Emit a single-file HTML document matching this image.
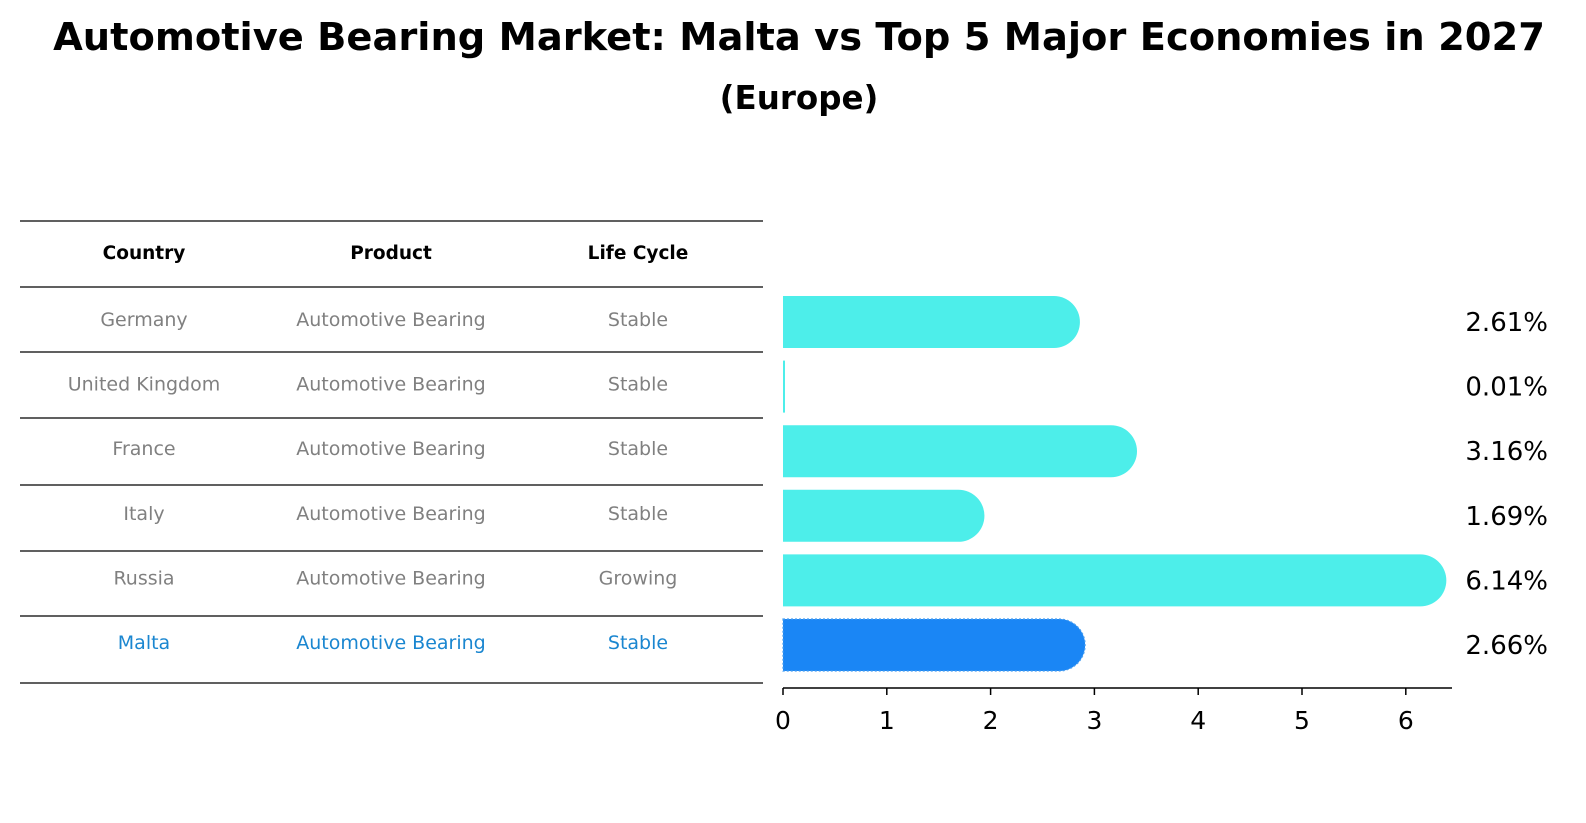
<!DOCTYPE html>
<html><head><meta charset="utf-8">
<style>
body{margin:0;background:#fff;font-family:"Liberation Sans","DejaVu Sans",sans-serif;}
#wrap{position:relative;width:1586px;height:823px;overflow:hidden;}
.t{position:absolute;white-space:nowrap;}
</style></head>
<body>
<div id="wrap">
<div class="t" style="left:0;width:1598px;text-align:center;top:15px;font-size:38.4px;font-weight:bold;font-family:'DejaVu Sans',sans-serif;">Automotive Bearing Market: Malta vs Top 5 Major Economies in 2027</div>
<div class="t" style="left:0;width:1598px;text-align:center;top:79px;font-size:32.5px;font-weight:bold;font-family:'DejaVu Sans',sans-serif;">(Europe)</div>
<svg id="svg" width="1586" height="823" style="position:absolute;left:0;top:0"></svg>
</div>
<script>
const countries=["Germany","United Kingdom","France","Italy","Russia","Malta"];
const products=["Automotive Bearing","Automotive Bearing","Automotive Bearing","Automotive Bearing","Automotive Bearing","Automotive Bearing"];
const lifecycle=["Stable","Stable","Stable","Stable","Growing","Stable"];
const values=[2.61,0.01,3.16,1.69,6.14,2.66];
const ticks=[0,1,2,3,4,5,6];
const NS="http://www.w3.org/2000/svg";
const svg=document.getElementById('svg');
function mk(tag,attrs,name,text){const e=document.createElementNS(NS,tag);for(const k in attrs)e.setAttribute(k,attrs[k]);


if(text!==undefined)e.textContent=text;svg.appendChild(e);return e;}
const x0=783,pxu=103.8;
const xs=v=>x0+v*pxu;
const rowY=i=>322+i*64.6;
const lineYs=[221,287,352,418,485,551,616,683];
lineYs.forEach((y,i)=>mk('line',{x1:20,x2:763,y1:y,y2:y,stroke:'#000','stroke-width':1.2},'table-rule'));
const colX=[144,391,638];
["Country","Product","Life Cycle"].forEach((h,j)=>mk('text',{x:colX[j],y:259,'text-anchor':'middle','font-size':18.5,'font-weight':'bold','font-family':'DejaVu Sans,sans-serif'},'table-header',h));
countries.forEach((c,i)=>{
 const y=rowY(i)+4;const col=i===5?'#1a86d0':'#808080';
 [c,products[i],lifecycle[i]].forEach((t,j)=>mk('text',{x:colX[j],y:y,'text-anchor':'middle','font-size':19,fill:col,'font-family':'DejaVu Sans,sans-serif'},'table-cell',t));
 const h=52,r=26,yc=rowY(i),w=xs(values[i])-x0;
 const color=i===5?'#1a86f5':'#4deeea';
 if(values[i]<0.1){mk('rect',{x:x0,y:yc-h/2,width:2,height:h,fill:color},'bar-'+c.toLowerCase().replace(/ /g,'-'));}
 else{mk('path',{d:`M${x0},${yc-r}H${x0+w}A${r},${r} 0 0 1 ${x0+w},${yc+r}H${x0}Z`,fill:color,stroke:i===5?'#4a9ff0':'none','stroke-dasharray':'2,2','stroke-width':i===5?1.2:0},'bar-'+c.toLowerCase().replace(/ /g,'-'));}
 mk('text',{x:1548,y:yc+9,'text-anchor':'end','font-size':26,'font-family':'DejaVu Sans,sans-serif'},'value-label',values[i].toFixed(2)+'%');
});
mk('line',{x1:x0,x2:1452,y1:688,y2:688,stroke:'#000','stroke-width':1.5},'x-axis-line');
ticks.forEach(t=>{mk('line',{x1:xs(t),x2:xs(t),y1:688,y2:695,stroke:'#000','stroke-width':1.5},'x-tick');
 mk('text',{x:xs(t),y:729,'text-anchor':'middle','font-size':25,'font-family':'DejaVu Sans,sans-serif'},'x-tick-label',String(t));});
</script>
</body></html>
